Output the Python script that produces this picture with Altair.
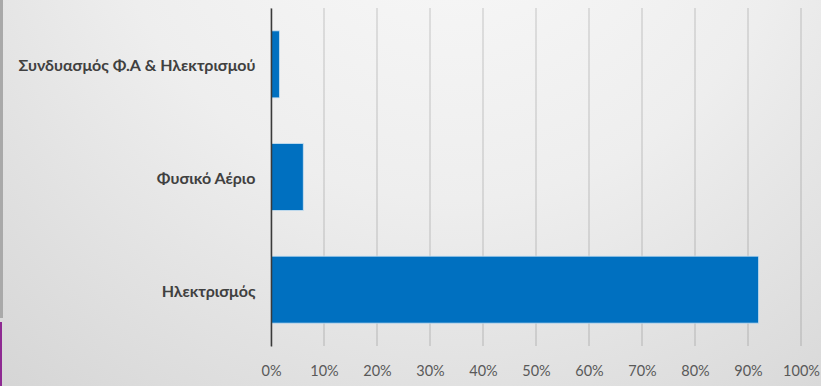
import altair as alt
import pandas as pd

# Share of households by heating energy source
categories = ["Συνδυασμός Φ.Α & Ηλεκτρισμού", "Φυσικό Αέριο", "Ηλεκτρισμός"]
shares = [0.016, 0.061, 0.920]
tick_values = [i / 10 for i in range(11)]

df = pd.DataFrame({"source": categories, "share": shares})
grid_df = pd.DataFrame({"share": tick_values})

PLOT_W, PLOT_H = 530, 338
PAD_L, PAD_T = 271, 8
TOTAL_W, TOTAL_H = 821, 386

x_scale = alt.Scale(domain=[0, 1], nice=False)
x_axis = alt.Axis(
    format=".0%",
    values=tick_values,
    title=None,
    domain=False,
    ticks=False,
    grid=False,
    labelFont="Lato",
    labelFontSize=14.5,
    labelColor="#595959",
    labelPadding=18,
    labelFlush=False,
    labelOverlap=False,
    zindex=1,
)

# Soft radial backdrop behind the whole chart
backdrop = alt.Chart(df).mark_rect(
    fill=alt.RadialGradient(
        gradient="radial",
        x1=0.55, y1=0.08, r1=0.0,
        x2=0.55, y2=0.08, r2=0.95,
        stops=[
            alt.GradientStop(offset=0.0, color="#fafafa"),
            alt.GradientStop(offset=0.45, color="#eeeeee"),
            alt.GradientStop(offset=1.0, color="#d0d0d0"),
        ],
    )
).encode(
    x=alt.value(-PAD_L), x2=alt.value(TOTAL_W - PAD_L),
    y=alt.value(-PAD_T), y2=alt.value(TOTAL_H - PAD_T),
)

# Thin slide edge strips on the far left
edge_gray = alt.Chart(df).mark_rect(color="#a9a9a9").encode(
    x=alt.value(-PAD_L), x2=alt.value(-PAD_L + 3),
    y=alt.value(-PAD_T), y2=alt.value(318 - PAD_T),
)
edge_purple = alt.Chart(df).mark_rect(color="#8e2a92").encode(
    x=alt.value(-PAD_L), x2=alt.value(-PAD_L + 2),
    y=alt.value(322 - PAD_T), y2=alt.value(TOTAL_H - PAD_T),
)

# Vertical gridlines at every 10%
grid = alt.Chart(grid_df).mark_rule(color="#000000", opacity=0.2, strokeWidth=1).encode(
    x=alt.X("share:Q", scale=x_scale, axis=x_axis),
    y=alt.value(0),
    y2=alt.value(PLOT_H),
)

bars = alt.Chart(df).mark_bar(
    color="#0070c0", stroke="#cfe3f3", strokeWidth=1, strokeOpacity=0.8
).encode(
    x=alt.X("share:Q", scale=x_scale, axis=x_axis),
    y=alt.Y(
        "source:N",
        sort=categories,
        scale=alt.Scale(paddingInner=0.405, paddingOuter=0.2025),
        axis=alt.Axis(
            title=None,
            ticks=False,
            domain=True,
            domainColor="#3a3a3a",
            domainWidth=1.5,
            grid=False,
            labelFont="Lato",
            labelFontWeight="bold",
            labelFontSize=16,
            labelColor="#404040",
            labelPadding=16,
            labelOffset=2,
            labelLimit=300,
            zindex=1,
        ),
    ),
)

chart = (
    alt.layer(backdrop, edge_gray, edge_purple, grid, bars)
    .properties(
        width=PLOT_W,
        height=PLOT_H,
        autosize=alt.AutoSizeParams(type="none"),
        padding={"left": PAD_L, "top": PAD_T, "right": TOTAL_W - PAD_L - PLOT_W, "bottom": TOTAL_H - PAD_T - PLOT_H},
        background="#e4e4e4",
    )
    .configure_view(stroke=None)
)

chart.save("out.html", embed_options={"renderer": "svg", "actions": False})
